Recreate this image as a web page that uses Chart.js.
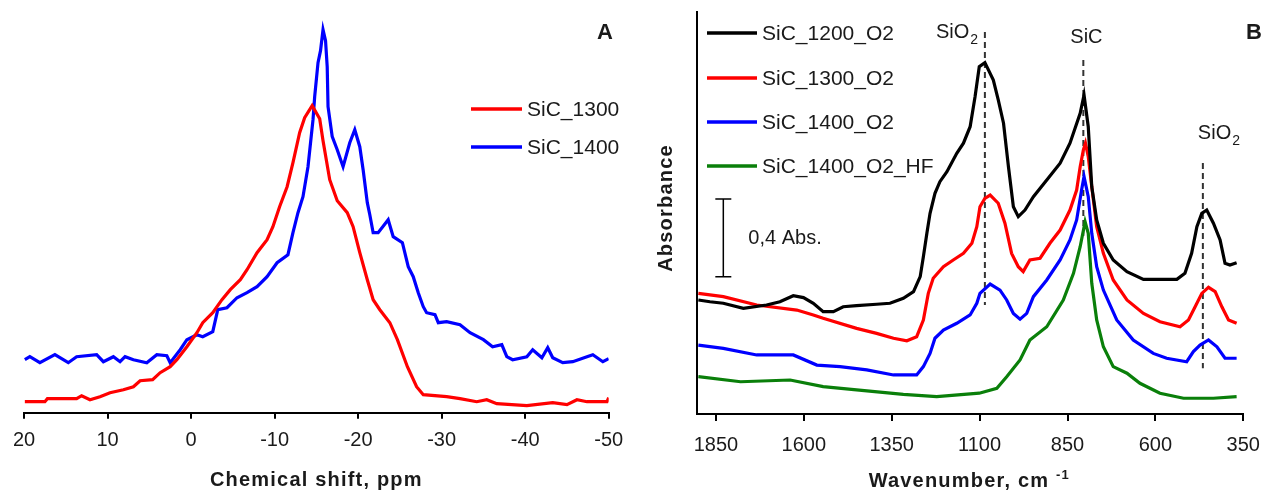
<!DOCTYPE html>
<html lang="en">
<head>
<meta charset="UTF-8" />
<title>SiC NMR and FTIR spectra</title>
<script src="https://cdn.jsdelivr.net/npm/chart.js"></script>
<style>
  html, body { margin: 0; padding: 0; background: #fff; }
  #wrap { position: relative; width: 1262px; height: 491px; }
  #boxA { position: absolute; left: 0; top: 0; width: 640px; height: 491px; }
  #boxB { position: absolute; left: 640px; top: 0; width: 622px; height: 491px; }
</style>
</head>
<body>
<div id="wrap">
  <div id="boxA"><canvas id="nmrChart"></canvas></div>
  <div id="boxB"><canvas id="irChart"></canvas></div>
</div>
<script>
// ---- panel A: 29Si NMR, chemical shift (ppm) vs intensity (a.u.)
const nmrShift1300 = [19.9, 17.5, 17.2, 13.7, 13.1, 12.1, 10.9, 9.7, 8.1, 6.9, 6.1, 4.6, 3.7, 2.5, 1.7, 0.5, -0.7, -1.4, -2.6, -3.7, -4.7, -5.9, -6.7, -7.9, -9.1, -9.8, -10.6, -11.5, -12.2, -13.0, -13.6, -14.5, -15.4, -15.8, -16.6, -17.5, -18.7, -19.4, -20.2, -21.1, -21.8, -22.6, -23.8, -24.7, -25.9, -27.0, -27.8, -30.6, -32.2, -34.2, -35.4, -36.6, -40.2, -43.3, -45.0, -46.2, -47.4, -49.8, -50.0];
const nmrInt1300 = [11, 11, 14, 14, 17, 13, 16, 20, 23, 26, 32, 33, 40, 46, 53, 66, 80, 90, 100, 113, 123, 133, 143, 160, 173, 186, 206, 226, 250, 280, 295, 307, 294, 272, 233, 212, 200, 186, 160, 133, 113, 103, 90, 73, 46, 26, 18, 16, 14, 11, 13, 9, 7, 10, 8, 13, 11, 11, 15];

const nmrShift1400 = [19.9, 19.3, 18.1, 16.3, 14.7, 13.7, 11.3, 10.5, 9.3, 8.5, 7.9, 6.9, 5.3, 4.1, 2.9, 2.5, 1.3, 0.5, -0.7, -1.4, -2.6, -3.2, -4.3, -5.5, -6.7, -7.9, -9.1, -10.3, -11.6, -12.2, -12.8, -13.4, -14.0, -14.6, -14.8, -15.2, -15.5, -15.8, -16.1, -16.3, -16.4, -16.9, -17.5, -18.2, -19.0, -19.6, -20.2, -20.6, -21.1, -21.4, -21.8, -22.4, -23.6, -24.2, -25.3, -26.0, -26.6, -27.2, -27.8, -28.2, -29.2, -29.6, -30.6, -32.2, -33.4, -35.0, -36.1, -37.2, -37.8, -38.5, -40.2, -40.9, -42.0, -42.7, -43.3, -44.5, -45.7, -47.4, -48.1, -49.3, -50.0];
const nmrInt1400 = [53, 56, 50, 58, 50, 56, 58, 51, 56, 51, 56, 53, 50, 58, 57, 50, 63, 73, 78, 76, 81, 103, 105, 115, 120, 126, 136, 150, 158, 180, 200, 216, 246, 293, 316, 350, 362, 383, 372, 346, 306, 276, 263, 246, 270, 283, 266, 243, 210, 198, 180, 180, 193, 176, 170, 146, 136, 120, 106, 100, 98, 90, 91, 88, 80, 73, 66, 68, 56, 53, 56, 63, 55, 65, 55, 50, 51, 56, 58, 51, 54];

const nmrTicks = [20, 10, 0, -10, -20, -30, -40, -50];

// ---- panel B: FTIR, wavenumber (cm-1) vs absorbance (curves offset)
const wn1200 = [1900, 1867, 1829, 1772, 1706, 1668, 1630, 1601, 1573, 1545, 1516, 1488, 1450, 1393, 1355, 1317, 1288, 1269, 1260, 1250, 1241, 1227, 1213, 1193, 1165, 1146, 1127, 1113, 1101, 1085, 1061, 1047, 1032, 1018, 1004, 990, 971, 947, 909, 871, 843, 814, 803, 791, 781, 767, 748, 720, 681, 634, 539, 516, 497, 482, 468, 454, 435, 416, 402, 388, 369];
const abs1200 = [0.587, 0.578, 0.570, 0.544, 0.561, 0.578, 0.609, 0.599, 0.570, 0.527, 0.527, 0.552, 0.558, 0.565, 0.570, 0.596, 0.630, 0.707, 0.810, 0.930, 1.033, 1.136, 1.196, 1.247, 1.342, 1.394, 1.479, 1.633, 1.788, 1.809, 1.719, 1.617, 1.497, 1.273, 1.067, 1.016, 1.050, 1.119, 1.205, 1.291, 1.394, 1.548, 1.642, 1.479, 1.170, 0.999, 0.879, 0.793, 0.733, 0.693, 0.693, 0.724, 0.827, 0.964, 1.033, 1.050, 0.982, 0.896, 0.776, 0.767, 0.779];

const wn1300 = [1900, 1829, 1734, 1620, 1573, 1545, 1450, 1393, 1345, 1307, 1279, 1260, 1246, 1232, 1203, 1175, 1146, 1122, 1108, 1099, 1085, 1070, 1047, 1028, 1009, 990, 976, 957, 928, 900, 871, 843, 824, 814, 805, 799, 791, 781, 767, 748, 720, 681, 634, 587, 530, 506, 487, 468, 449, 430, 411, 392, 369];
const abs1300 = [0.621, 0.604, 0.561, 0.535, 0.510, 0.493, 0.441, 0.415, 0.390, 0.377, 0.398, 0.484, 0.621, 0.699, 0.758, 0.793, 0.827, 0.879, 0.964, 1.067, 1.110, 1.127, 1.085, 0.982, 0.827, 0.758, 0.733, 0.793, 0.802, 0.879, 0.947, 1.050, 1.153, 1.273, 1.359, 1.394, 1.325, 1.170, 0.964, 0.827, 0.690, 0.587, 0.518, 0.475, 0.449, 0.484, 0.552, 0.621, 0.652, 0.630, 0.552, 0.484, 0.467];

const wn1400 = [1900, 1829, 1734, 1630, 1563, 1497, 1421, 1345, 1279, 1260, 1241, 1227, 1203, 1165, 1127, 1108, 1099, 1070, 1042, 1023, 1004, 985, 966, 947, 909, 871, 843, 824, 810, 803, 791, 781, 767, 748, 710, 663, 606, 568, 511, 492, 473, 449, 425, 402, 369];
const abs1400 = [0.355, 0.338, 0.304, 0.304, 0.252, 0.244, 0.227, 0.201, 0.201, 0.244, 0.312, 0.390, 0.432, 0.467, 0.510, 0.570, 0.621, 0.669, 0.638, 0.587, 0.518, 0.488, 0.518, 0.604, 0.690, 0.793, 0.896, 0.999, 1.153, 1.222, 1.119, 0.930, 0.758, 0.638, 0.484, 0.381, 0.312, 0.287, 0.269, 0.321, 0.355, 0.381, 0.346, 0.287, 0.287];

const wnHF = [1900, 1780, 1639, 1545, 1450, 1317, 1222, 1101, 1051, 1023, 985, 957, 909, 862, 833, 814, 800, 791, 781, 767, 748, 720, 681, 644, 587, 520, 435, 369];
const absHF = [0.192, 0.166, 0.175, 0.141, 0.124, 0.101, 0.089, 0.107, 0.132, 0.192, 0.278, 0.381, 0.449, 0.587, 0.724, 0.861, 0.990, 0.930, 0.673, 0.484, 0.346, 0.244, 0.210, 0.158, 0.107, 0.081, 0.081, 0.089];

const irTicks = [1850, 1600, 1350, 1100, 850, 600, 350];
// band markers: wavenumber, absorbance range of the dashed guide, label
const bandWn = [1085, 805, 465];
const bandTop = [1.967, 1.822, 1.292];
const bandBottom = [0.561, 0.896, 0.235];
const bandLabel = ["SiO2", "SiC", "SiO2"];
// 0,4 Abs. scale bar
const barWn = 1829;
const barFrom = 0.707;
const barSize = 0.4;

const FONT = "'Liberation Sans', Arial, sans-serif";
const TEXT = "#1a1a1a";
const toXY = (xs, ys) => xs.map((x, i) => ({ x: x, y: ys[i] }));

function drawLegend(ctx, chart, x0, x1, ys) {
  ctx.save();
  ctx.font = "21px " + FONT;
  ctx.textBaseline = "middle";
  chart.data.datasets.forEach((ds, i) => {
    ctx.strokeStyle = ds.borderColor;
    ctx.lineWidth = 3.5;
    ctx.beginPath();
    ctx.moveTo(x0, ys[i]);
    ctx.lineTo(x1, ys[i]);
    ctx.stroke();
    ctx.fillStyle = TEXT;
    ctx.fillText(ds.label, x1 + 5, ys[i] + 1);
  });
  ctx.restore();
}

function boldText(ctx, str, x, y, size, spacing) {
  ctx.font = "bold " + size + "px " + FONT;
  ctx.letterSpacing = spacing + "px";
  ctx.fillText(str, x, y);
  ctx.letterSpacing = "0px";
}

const nmrDecor = {
  id: "nmrDecor",
  afterDraw(chart) {
    const ctx = chart.ctx;
    const area = chart.chartArea;
    drawLegend(ctx, chart, 471, 522, [109, 147]);
    ctx.save();
    ctx.fillStyle = TEXT;
    ctx.textAlign = "center";
    ctx.textBaseline = "middle";
    boldText(ctx, "A", 605, 33, 22, 0);
    boldText(ctx, "Chemical shift, ppm", (area.left + area.right) / 2, 480, 20, 1.2);
    ctx.restore();
  }
};

const irDecor = {
  id: "irDecor",
  beforeDatasetsDraw(chart) {
    const ctx = chart.ctx;
    const x = chart.scales.x, y = chart.scales.y;
    ctx.save();
    ctx.strokeStyle = "#333";
    ctx.lineWidth = 2;
    ctx.setLineDash([6, 4]);
    bandWn.forEach((w, i) => {
      const px = x.getPixelForValue(w);
      ctx.beginPath();
      ctx.moveTo(px, y.getPixelForValue(bandTop[i]));
      ctx.lineTo(px, y.getPixelForValue(bandBottom[i]));
      ctx.stroke();
    });
    ctx.restore();
  },
  afterDraw(chart) {
    const ctx = chart.ctx;
    const area = chart.chartArea;
    const x = chart.scales.x, y = chart.scales.y;
    drawLegend(ctx, chart, 67, 117, [33, 78, 122, 166]);

    ctx.save();
    // scale bar
    const bx = x.getPixelForValue(barWn);
    const by0 = y.getPixelForValue(barFrom);
    const by1 = y.getPixelForValue(barFrom + barSize);
    ctx.strokeStyle = "#000";
    ctx.lineWidth = 1.5;
    ctx.beginPath();
    ctx.moveTo(bx, by0); ctx.lineTo(bx, by1);
    ctx.moveTo(bx - 8, by0); ctx.lineTo(bx + 8, by0);
    ctx.moveTo(bx - 8, by1); ctx.lineTo(bx + 8, by1);
    ctx.stroke();
    ctx.fillStyle = TEXT;
    ctx.font = "20px " + FONT;
    ctx.textBaseline = "middle";
    ctx.fillText("0,4 Abs.", bx + 25, (by0 + by1) / 2 + 1);

    // band labels
    const labelPos = [
      { dx: -49, y: 32 },
      { dx: -13, y: 37 },
      { dx: -5, y: 133 }
    ];
    bandLabel.forEach((lab, i) => {
      const px = x.getPixelForValue(bandWn[i]) + labelPos[i].dx;
      const py = labelPos[i].y;
      ctx.font = "20px " + FONT;
      if (lab === "SiO2") {
        ctx.fillText("SiO", px, py);
        const w = ctx.measureText("SiO").width;
        ctx.font = "14px " + FONT;
        ctx.fillText("2", px + w + 1, py + 8);
      } else {
        ctx.fillText(lab, px, py);
      }
    });

    // panel letter and axis titles
    ctx.textAlign = "center";
    boldText(ctx, "B", 614, 33, 22, 0);
    const tx = (area.left + area.right) / 2;
    ctx.font = "bold 20px " + FONT;
    ctx.letterSpacing = "1.2px";
    const mainW = ctx.measureText("Wavenumber, cm ").width;
    ctx.textAlign = "left";
    ctx.fillText("Wavenumber, cm ", tx - mainW / 2 - 8, 481);
    ctx.font = "bold 13px " + FONT;
    ctx.fillText("-1", tx + mainW / 2 - 8, 475);
    ctx.letterSpacing = "0px";

    ctx.translate(26, (area.top + area.bottom) / 2 - 5);
    ctx.rotate(-Math.PI / 2);
    ctx.textAlign = "center";
    boldText(ctx, "Absorbance", 0, 0, 20, 1.2);
    ctx.restore();
  }
};

const axisTicks = (size, pad) => ({
  color: TEXT,
  font: { family: FONT, size: size },
  padding: pad,
  maxRotation: 0,
  autoSkip: false,
  callback: (v) => String(v)
});

// fixed axis band height; drop label overhang padding so the layout padding decides the plot edges
const fixBottomAxis = (h) => (s) => {
  s.height = h;
  s.paddingLeft = 0;
  s.paddingRight = 0;
};

new Chart(document.getElementById("nmrChart"), {
  type: "line",
  data: {
    datasets: [
      { label: "SiC_1300", data: toXY(nmrShift1300, nmrInt1300), borderColor: "#ff0000" },
      { label: "SiC_1400", data: toXY(nmrShift1400, nmrInt1400), borderColor: "#0000ff" }
    ]
  },
  options: {
    responsive: true,
    maintainAspectRatio: false,
    animation: false,
    layout: { padding: { left: 24, right: 31.3, top: 12.7, bottom: 0 } },
    elements: { point: { radius: 0 }, line: { borderWidth: 3.2, tension: 0 } },
    plugins: { legend: { display: false }, tooltip: { enabled: false } },
    scales: {
      x: {
        type: "linear",
        reverse: true,
        min: -50,
        max: 20,
        afterBuildTicks: (s) => { s.ticks = nmrTicks.map((v) => ({ value: v })); },
        ticks: axisTicks(20, 10),
        grid: { display: true, drawOnChartArea: false, drawTicks: true, tickLength: 6, color: "#000", lineWidth: 2 },
        border: { display: true, color: "#000", width: 2 },
        afterFit: fixBottomAxis(78.3)
      },
      y: { display: false, min: 0, max: 400 }
    }
  },
  plugins: [nmrDecor]
});

new Chart(document.getElementById("irChart"), {
  type: "line",
  data: {
    datasets: [
      { label: "SiC_1200_O2", data: toXY(wn1200, abs1200), borderColor: "#000000" },
      { label: "SiC_1300_O2", data: toXY(wn1300, abs1300), borderColor: "#ff0000" },
      { label: "SiC_1400_O2", data: toXY(wn1400, abs1400), borderColor: "#0000ff" },
      { label: "SiC_1400_O2_HF", data: toXY(wnHF, absHF), borderColor: "#0a7f0a" }
    ]
  },
  options: {
    responsive: true,
    maintainAspectRatio: false,
    animation: false,
    layout: { padding: { left: 57.3, right: 18.7, top: 12, bottom: 0 } },
    elements: { point: { radius: 0 }, line: { borderWidth: 3.2, tension: 0 } },
    plugins: { legend: { display: false }, tooltip: { enabled: false } },
    scales: {
      x: {
        type: "linear",
        reverse: true,
        min: 350,
        max: 1903,
        afterBuildTicks: (s) => { s.ticks = irTicks.map((v) => ({ value: v })); },
        ticks: axisTicks(20, 12),
        grid: { display: true, drawOnChartArea: false, drawTicks: true, tickLength: 7, color: "#000", lineWidth: 2 },
        border: { display: true, color: "#000", width: 2 },
        afterFit: fixBottomAxis(77)
      },
      y: {
        min: 0,
        max: 2.0695,
        ticks: { display: false },
        grid: { display: false },
        border: { display: true, color: "#000", width: 2 },
        afterFit: (s) => { s.width = 0; }
      }
    }
  },
  plugins: [irDecor]
});
</script>
</body>
</html>
